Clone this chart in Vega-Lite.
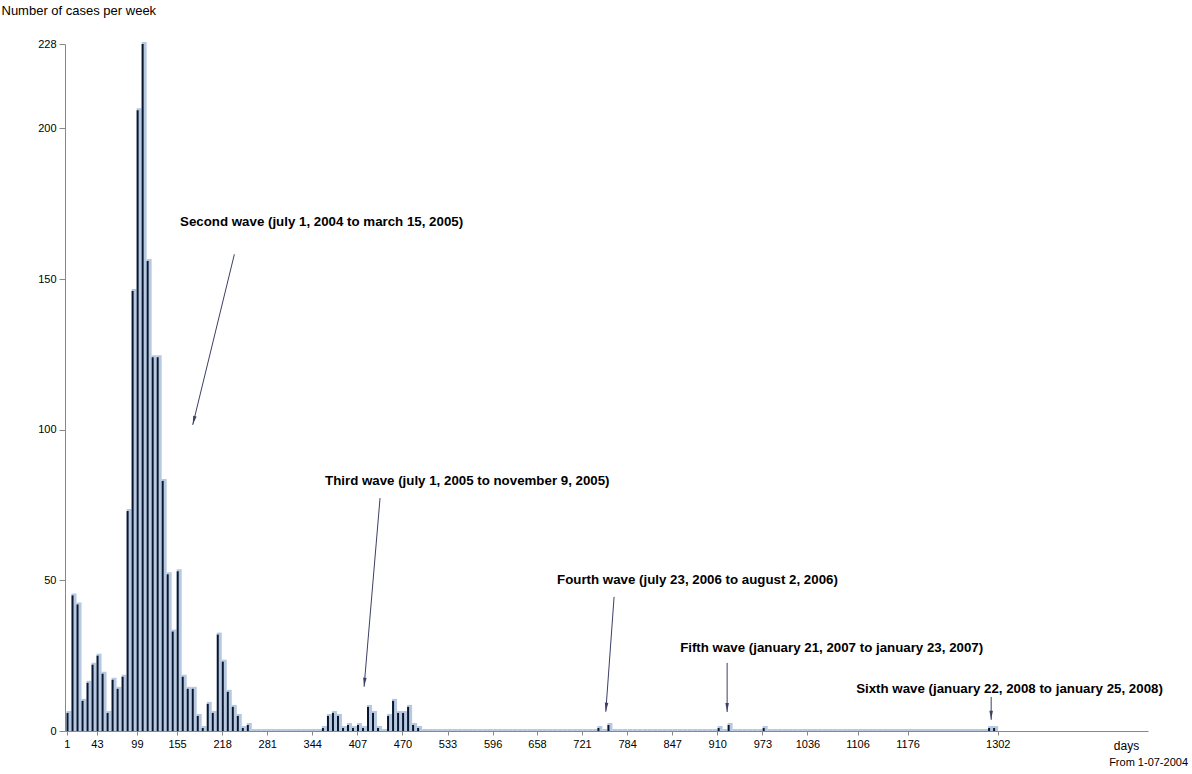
{
  "$schema": "https://vega.github.io/schema/vega-lite/v6.json",
  "autosize": "none",
  "width": 1083,
  "height": 687,
  "padding": {"left": 65, "top": 44, "right": 44, "bottom": 43},
  "background": "white",
  "config": {"view": {"stroke": null}, "font": "Liberation Sans"},
  "title": {"text": "From 1-07-2004", "orient": "bottom", "anchor": "end", "frame": "group", "fontSize": 11, "fontWeight": "normal", "color": "#000", "dx": 40, "offset": 6},
  "datasets": {
    "weeks": [
      {"day":4,"cases":6},{"day":11,"cases":45},{"day":18,"cases":42},{"day":25,"cases":10},{"day":32,"cases":16},{"day":39,"cases":22},{"day":46,"cases":25},{"day":53,"cases":19},{"day":60,"cases":6},{"day":67,"cases":17},
      {"day":74,"cases":14},{"day":81,"cases":18},{"day":88,"cases":73},{"day":95,"cases":146},{"day":102,"cases":206},{"day":109,"cases":228},{"day":116,"cases":156},{"day":123,"cases":124},{"day":130,"cases":124},{"day":137,"cases":83},
      {"day":144,"cases":52},{"day":151,"cases":33},{"day":158,"cases":53},{"day":165,"cases":18},{"day":172,"cases":14},{"day":179,"cases":14},{"day":186,"cases":5},{"day":193,"cases":1},{"day":200,"cases":9},{"day":207,"cases":6},
      {"day":214,"cases":32},{"day":221,"cases":23},{"day":228,"cases":13},{"day":235,"cases":8},{"day":242,"cases":5},{"day":249,"cases":1},{"day":256,"cases":2},{"day":263,"cases":0},{"day":270,"cases":0},{"day":277,"cases":0},
      {"day":284,"cases":0},{"day":291,"cases":0},{"day":298,"cases":0},{"day":305,"cases":0},{"day":312,"cases":0},{"day":319,"cases":0},{"day":326,"cases":0},{"day":333,"cases":0},{"day":340,"cases":0},{"day":347,"cases":0},
      {"day":354,"cases":0},{"day":361,"cases":1},{"day":368,"cases":5},{"day":375,"cases":6},{"day":382,"cases":5},{"day":389,"cases":1},{"day":396,"cases":2},{"day":403,"cases":1},{"day":410,"cases":2},{"day":417,"cases":1},
      {"day":424,"cases":8},{"day":431,"cases":6},{"day":438,"cases":1},{"day":445,"cases":0},{"day":452,"cases":5},{"day":459,"cases":10},{"day":466,"cases":6},{"day":473,"cases":6},{"day":480,"cases":8},{"day":487,"cases":2},
      {"day":494,"cases":1},{"day":501,"cases":0},{"day":508,"cases":0},{"day":515,"cases":0},{"day":522,"cases":0},{"day":529,"cases":0},{"day":536,"cases":0},{"day":543,"cases":0},{"day":550,"cases":0},{"day":557,"cases":0},
      {"day":564,"cases":0},{"day":571,"cases":0},{"day":578,"cases":0},{"day":585,"cases":0},{"day":592,"cases":0},{"day":599,"cases":0},{"day":606,"cases":0},{"day":613,"cases":0},{"day":620,"cases":0},{"day":627,"cases":0},
      {"day":634,"cases":0},{"day":641,"cases":0},{"day":648,"cases":0},{"day":655,"cases":0},{"day":662,"cases":0},{"day":669,"cases":0},{"day":676,"cases":0},{"day":683,"cases":0},{"day":690,"cases":0},{"day":697,"cases":0},
      {"day":704,"cases":0},{"day":711,"cases":0},{"day":718,"cases":0},{"day":725,"cases":0},{"day":732,"cases":0},{"day":739,"cases":0},{"day":746,"cases":1},{"day":753,"cases":0},{"day":760,"cases":2},{"day":767,"cases":0},
      {"day":774,"cases":0},{"day":781,"cases":0},{"day":788,"cases":0},{"day":795,"cases":0},{"day":802,"cases":0},{"day":809,"cases":0},{"day":816,"cases":0},{"day":823,"cases":0},{"day":830,"cases":0},{"day":837,"cases":0},
      {"day":844,"cases":0},{"day":851,"cases":0},{"day":858,"cases":0},{"day":865,"cases":0},{"day":872,"cases":0},{"day":879,"cases":0},{"day":886,"cases":0},{"day":893,"cases":0},{"day":900,"cases":0},{"day":907,"cases":0},
      {"day":914,"cases":1},{"day":921,"cases":0},{"day":928,"cases":2},{"day":935,"cases":0},{"day":942,"cases":0},{"day":949,"cases":0},{"day":956,"cases":0},{"day":963,"cases":0},{"day":970,"cases":0},{"day":977,"cases":1},
      {"day":984,"cases":0},{"day":991,"cases":0},{"day":998,"cases":0},{"day":1005,"cases":0},{"day":1012,"cases":0},{"day":1019,"cases":0},{"day":1026,"cases":0},{"day":1033,"cases":0},{"day":1040,"cases":0},{"day":1047,"cases":0},
      {"day":1054,"cases":0},{"day":1061,"cases":0},{"day":1068,"cases":0},{"day":1075,"cases":0},{"day":1082,"cases":0},{"day":1089,"cases":0},{"day":1096,"cases":0},{"day":1103,"cases":0},{"day":1110,"cases":0},{"day":1117,"cases":0},
      {"day":1124,"cases":0},{"day":1131,"cases":0},{"day":1138,"cases":0},{"day":1145,"cases":0},{"day":1152,"cases":0},{"day":1159,"cases":0},{"day":1166,"cases":0},{"day":1173,"cases":0},{"day":1180,"cases":0},{"day":1187,"cases":0},
      {"day":1194,"cases":0},{"day":1201,"cases":0},{"day":1208,"cases":0},{"day":1215,"cases":0},{"day":1222,"cases":0},{"day":1229,"cases":0},{"day":1236,"cases":0},{"day":1243,"cases":0},{"day":1250,"cases":0},{"day":1257,"cases":0},
      {"day":1264,"cases":0},{"day":1271,"cases":0},{"day":1278,"cases":0},{"day":1285,"cases":0},{"day":1292,"cases":1},{"day":1299,"cases":1}
    ],
    "arrows": [
      {"wave":"second","day":235.1,"cases":158.2,"day2":176.9,"cases2":101.6},
      {"wave":"third","day":438.7,"cases":77.3,"day2":416.4,"cases2":14.7},
      {"wave":"fourth","day":765.8,"cases":44.5,"day2":754.2,"cases2":6.4},
      {"wave":"fifth","day":923.8,"cases":22.6,"day2":923.8,"cases2":6.3},
      {"wave":"sixth","day":1292.8,"cases":11.3,"day2":1292.8,"cases2":3.7}
    ],
    "notes": [
      {"label":"Second wave (july 1, 2004 to march 15, 2005)","day":159.2,"cases":168.9},
      {"label":"Third wave (july 1, 2005 to november 9, 2005)","day":361.8,"cases":83.0},
      {"label":"Fourth wave (july 23, 2006 to august 2, 2006)","day":686.1,"cases":50.1},
      {"label":"Fifth wave (january 21, 2007 to january 23, 2007)","day":858.1,"cases":27.7},
      {"label":"Sixth wave (january 22, 2008 to january 25, 2008)","day":1104.1,"cases":13.9}
    ]
  },
  "layer": [
    {
      "data": {"name": "weeks"},
      "mark": {"type": "bar", "size": 5, "color": "#b7c9e1", "yOffset": -2, "y2Offset": 0},
      "encoding": {
        "x": {"field": "day", "type": "quantitative",
          "scale": {"domain": [-1.6, 1512], "nice": false, "zero": false, "padding": 0},
          "axis": {"values": [1,43,99,155,218,281,344,407,470,533,596,658,721,784,847,910,973,1036,1106,1176,1302],
            "format": "d",
            "title": "days", "titleX": 1061, "titleY": 14, "titleAlign": "center", "titleBaseline": "middle",
            "titleFontWeight": "normal", "titleFontSize": 12, "titleColor": "#000",
            "labelFontSize": 11, "labelColor": "#000", "labelPadding": 3, "labelDx": -4, "labelFlush": false, "labelOverlap": false,
            "tickSize": 4, "tickColor": "#888", "domainColor": "#888", "grid": false}},
        "y": {"field": "cases", "type": "quantitative",
          "scale": {"domain": [0, 228], "nice": false, "padding": 0},
          "axis": {"values": [0,50,100,150,200,228], "title": "Number of cases per week",
            "titleAngle": 0, "titleX": -64, "titleY": -34, "titleAlign": "left", "titleBaseline": "middle",
            "titleFontWeight": "normal", "titleFontSize": 13, "titleColor": "#000",
            "labelFontSize": 11, "labelColor": "#000", "labelPadding": 3,
            "tickSize": 6, "tickColor": "#888", "domainColor": "#888", "grid": false}},
        "y2": {"datum": 0}
      }
    },
    {
      "data": {"name": "weeks"},
      "mark": {"type": "bar", "size": 2, "color": "#08162f", "xOffset": -1.5},
      "encoding": {
        "x": {"field": "day", "type": "quantitative"},
        "y": {"field": "cases", "type": "quantitative"}
      }
    },
    {
      "data": {"name": "arrows"},
      "mark": {"type": "rule", "color": "#3c4064", "strokeWidth": 1},
      "encoding": {
        "x": {"field": "day", "type": "quantitative"},
        "y": {"field": "cases", "type": "quantitative"},
        "x2": {"field": "day2"},
        "y2": {"field": "cases2"}
      }
    },
    {
      "data": {"name": "arrows"},
      "transform": [{"filter": "datum.wave === 'second'"}],
      "mark": {"type": "point", "shape": "M-0.35,-1.8L0,0L0.35,-1.8Z", "size": 100, "filled": true, "color": "#3c4064", "opacity": 1, "angle": 14},
      "encoding": {
        "x": {"field": "day2", "type": "quantitative"},
        "y": {"field": "cases2", "type": "quantitative"}
      }
    },
    {
      "data": {"name": "arrows"},
      "transform": [{"filter": "datum.wave === 'third' || datum.wave === 'fourth'"}],
      "mark": {"type": "point", "shape": "M-0.35,-1.8L0,0L0.35,-1.8Z", "size": 100, "filled": true, "color": "#3c4064", "opacity": 1, "angle": 5},
      "encoding": {
        "x": {"field": "day2", "type": "quantitative"},
        "y": {"field": "cases2", "type": "quantitative"}
      }
    },
    {
      "data": {"name": "arrows"},
      "transform": [{"filter": "datum.wave === 'fifth' || datum.wave === 'sixth'"}],
      "mark": {"type": "point", "shape": "M-0.35,-1.8L0,0L0.35,-1.8Z", "size": 100, "filled": true, "color": "#3c4064", "opacity": 1, "angle": 0},
      "encoding": {
        "x": {"field": "day2", "type": "quantitative"},
        "y": {"field": "cases2", "type": "quantitative"}
      }
    },
    {
      "data": {"name": "notes"},
      "mark": {"type": "text", "align": "left", "baseline": "middle", "fontWeight": "bold", "fontSize": 13.3, "color": "#000"},
      "encoding": {
        "x": {"field": "day", "type": "quantitative"},
        "y": {"field": "cases", "type": "quantitative"},
        "text": {"field": "label"}
      }
    }
  ]
}
